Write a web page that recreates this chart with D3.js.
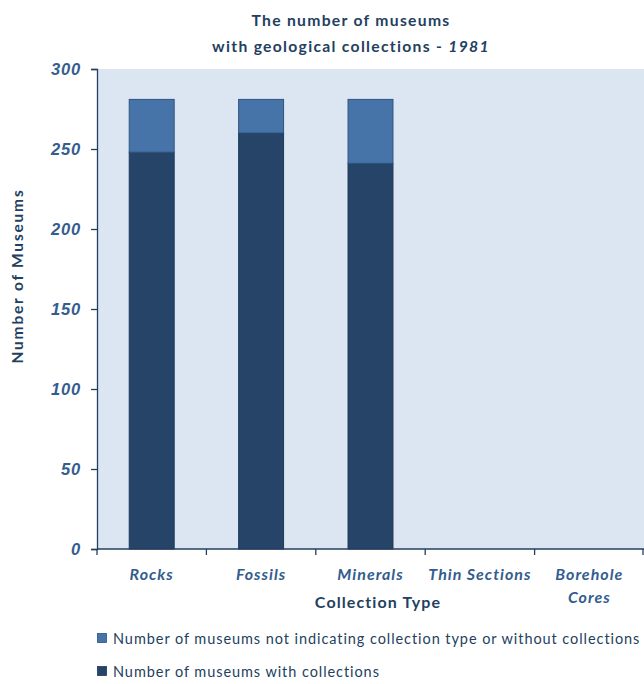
<!DOCTYPE html>
<html>
<head>
<meta charset="utf-8">
<script src="https://cdn.jsdelivr.net/npm/d3@7"></script>
<style>
  html, body { margin: 0; padding: 0; background: #ffffff; }
  svg { display: block; font-family: Lato, "Open Sans", sans-serif; }
</style>
</head>
<body>
<svg id="chart" width="644" height="684"></svg>
<script>
// Collection types shown along the x axis
const categories = ["Rocks", "Fossils", "Minerals", "Thin Sections", "Borehole Cores"];
// Museums reporting each collection type
const withCollections = [248, 260, 241, 0, 0];
// Museums not indicating the type, or holding no collections
const notIndicating = [33, 21, 40, 0, 0];
const yTicks = [0, 50, 100, 150, 200, 250, 300];
const seriesNames = [
  "Number of museums not indicating collection type or without collections",
  "Number of museums with collections"
];

const colDark = "#264467";
const colLight = "#4674a8";
const navy = "#243f60";
const tickBlue = "#335d8f";

const svg = d3.select("#chart");
const margin = { left: 97, top: 69, right: 0, bottom: 135 };
const W = 644, H = 684;
const plotW = W - margin.left - margin.right;
const plotH = H - margin.top - margin.bottom;

const x = d3.scaleBand().domain(categories).range([0, plotW]).paddingInner(0.58).paddingOuter(0.29);
const xTickScale = d3.scaleBand().domain(categories).range([0, plotW]);
const y = d3.scaleLinear().domain([0, 300]).range([plotH, 0]);

const g = svg.append("g").attr("transform", `translate(${margin.left},${margin.top})`);

// plot background
g.append("rect").attr("x", 0).attr("y", 0).attr("width", plotW).attr("height", plotH).attr("fill", "#dce6f2");

// stacked bars
const rows = categories.map((c, i) => ({ cat: c, withC: withCollections[i], notC: notIndicating[i] }));
const stack = d3.stack().keys(["withC", "notC"])(rows);
const fills = { withC: colDark, notC: colLight };
const strokes = { withC: "#1f3a5a", notC: "#2f537f" };
stack.forEach(layer => {
  g.append("g").selectAll("rect").data(layer.filter(d => d[1] > d[0])).join("rect")
    .attr("x", d => x(d.data.cat) + 0.5)
    .attr("width", x.bandwidth() - 1)
    .attr("y", d => y(d[1]))
    .attr("height", d => y(d[0]) - y(d[1]))
    .attr("fill", fills[layer.key])
    .attr("stroke", strokes[layer.key])
    .attr("stroke-width", 1);
});

// y axis
const yAxis = g.append("g").call(d3.axisLeft(y).tickValues(yTicks).tickSize(6).tickPadding(10));
yAxis.select(".domain").attr("stroke", navy).attr("stroke-width", 1.3);
yAxis.selectAll(".tick line").attr("stroke", navy).attr("stroke-width", 1.3);
yAxis.selectAll(".tick text").attr("fill", tickBlue).attr("font-size", 16.5)
  .attr("font-weight", "bold").attr("font-style", "italic").attr("letter-spacing", 0.8)
  .attr("dy", "0.35em");

// x axis with ticks at category boundaries
const xAxisG = g.append("g").attr("transform", `translate(0,${plotH})`);
xAxisG.append("line").attr("x1", 0).attr("x2", plotW).attr("y1", 0).attr("y2", 0)
  .attr("stroke", navy).attr("stroke-width", 1.3);
const bounds = categories.map(c => xTickScale(c)).concat([plotW - 1]);
xAxisG.selectAll("line.tk").data(bounds).join("line").attr("class", "tk")
  .attr("x1", d => d).attr("x2", d => d).attr("y1", 0).attr("y2", 6)
  .attr("stroke", navy).attr("stroke-width", 1.3);

// category labels, wrapped where needed
const wrapped = { "Borehole Cores": ["Borehole", "Cores"] };
categories.forEach(c => {
  const lines = wrapped[c] || [c];
  const cx = x(c) + x.bandwidth() / 2;
  const t = xAxisG.append("text")
    .attr("x", cx)
    .attr("y", 31)
    .attr("text-anchor", "middle")
    .attr("fill", tickBlue).attr("font-size", 16)
    .attr("font-weight", "bold").attr("font-style", "italic")
    .attr("letter-spacing", 1);
  lines.forEach((l, i) => t.append("tspan").attr("x", cx).attr("dy", i === 0 ? 0 : 23).text(l));
});

// axis titles
svg.append("text").attr("x", 378).attr("y", 608).attr("text-anchor", "middle")
  .attr("fill", navy).attr("font-size", 16).attr("font-weight", "bold")
  .attr("letter-spacing", 1.1).text("Collection Type");
svg.append("text").attr("transform", "translate(23,276) rotate(-90)").attr("text-anchor", "middle")
  .attr("fill", navy).attr("font-size", 15.5).attr("font-weight", "bold")
  .attr("letter-spacing", 1.8).text("Number of Museums");

// title
const title = svg.append("text").attr("text-anchor", "middle").attr("fill", navy)
  .attr("font-size", 15.7).attr("font-weight", "bold").attr("letter-spacing", 1.3);
title.append("tspan").attr("x", 351).attr("y", 26).text("The number of museums");
const t2 = title.append("tspan").attr("x", 351).attr("y", 52);
t2.append("tspan").text("with geological collections - ");
t2.append("tspan").attr("font-style", "italic").text("1981");

// legend
const legend = svg.append("g").attr("transform", "translate(97,633)");
[colLight, colDark].forEach((c, i) => {
  const row = legend.append("g").attr("transform", `translate(0,${i * 33})`);
  row.append("rect").attr("x", 0.5).attr("y", 0.5).attr("width", 9).attr("height", 9)
    .attr("fill", c).attr("stroke", i === 0 ? "#2f537f" : "#1f3a5a").attr("stroke-width", 0.8);
  row.append("text").attr("x", 16).attr("y", 11).attr("fill", navy).attr("font-size", 14.5)
    .attr("letter-spacing", 0.93).text(seriesNames[i]);
});
</script>
</body>
</html>
